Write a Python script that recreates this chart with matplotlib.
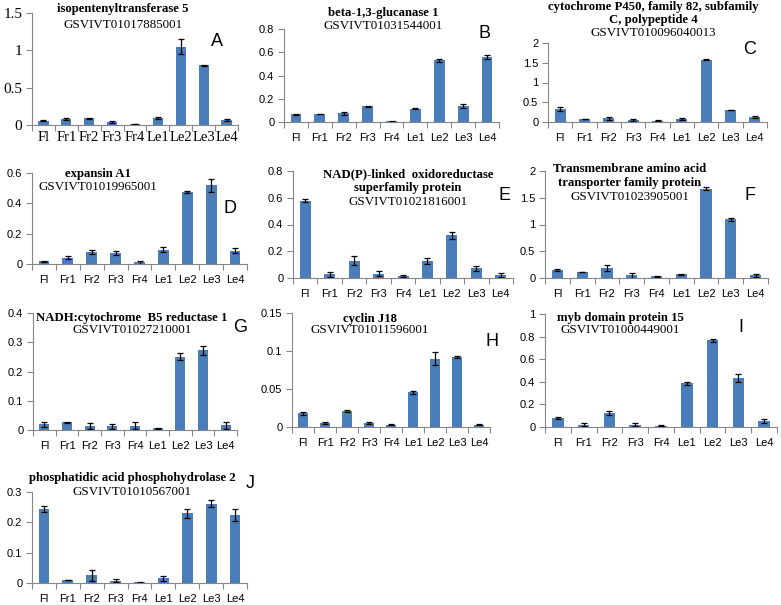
import numpy as np
import matplotlib
matplotlib.use("Agg")
import matplotlib.pyplot as plt
from matplotlib.ticker import FuncFormatter

W, H = 781, 605

samples = ["Fl", "Fr1", "Fr2", "Fr3", "Fr4", "Le1", "Le2", "Le3", "Le4"]

vals_a = [0.06, 0.08, 0.09, 0.045, 0.015, 0.09, 1.05, 0.80, 0.065]
err_a = [0.01, 0.015, 0.005, 0.015, 0.005, 0.015, 0.10, 0.01, 0.01]
vals_b = [0.065, 0.07, 0.075, 0.135, 0.005, 0.115, 0.53, 0.14, 0.56]
err_b = [0.005, 0.002, 0.015, 0.005, 0.002, 0.002, 0.012, 0.018, 0.018]
vals_c = [0.33, 0.07, 0.09, 0.05, 0.03, 0.07, 1.58, 0.31, 0.12]
err_c = [0.06, 0.005, 0.04, 0.03, 0.01, 0.03, 0.02, 0.005, 0.03]
vals_d = [0.018, 0.042, 0.08, 0.072, 0.013, 0.095, 0.475, 0.518, 0.088]
err_d = [0.002, 0.012, 0.015, 0.015, 0.01, 0.018, 0.005, 0.04, 0.015]
vals_e = [0.578, 0.028, 0.13, 0.033, 0.015, 0.128, 0.318, 0.072, 0.022]
err_e = [0.01, 0.02, 0.035, 0.02, 0.01, 0.02, 0.025, 0.02, 0.018]
vals_f = [0.15, 0.11, 0.19, 0.05, 0.03, 0.07, 1.67, 1.10, 0.05]
err_f = [0.01, 0.005, 0.05, 0.05, 0.015, 0.01, 0.03, 0.03, 0.03]
vals_g = [0.019, 0.026, 0.013, 0.012, 0.015, 0.006, 0.25, 0.272, 0.017]
err_g = [0.008, 0.003, 0.01, 0.008, 0.012, 0.002, 0.012, 0.015, 0.012]
vals_h = [0.018, 0.0055, 0.021, 0.005, 0.003, 0.046, 0.09, 0.092, 0.003]
err_h = [0.002, 0.001, 0.001, 0.001, 0.001, 0.002, 0.009, 0.001, 0.001]
vals_i = [0.08, 0.022, 0.125, 0.022, 0.012, 0.385, 0.768, 0.43, 0.055]
err_i = [0.005, 0.01, 0.015, 0.01, 0.005, 0.015, 0.015, 0.035, 0.02]
vals_j = [0.243, 0.01, 0.025, 0.008, 0.002, 0.015, 0.23, 0.262, 0.225]
err_j = [0.01, 0.001, 0.017, 0.006, 0.001, 0.007, 0.015, 0.01, 0.02]

BAR = "#4a7ebb"
AXC = "#868686"
SERIF = "Liberation Serif"
SANS = "Liberation Sans"

fig = plt.figure(figsize=(W / 100, H / 100), dpi=100)


def ftext(x, y, s, **kw):
    fig.text(x / W, 1 - y / H, s, ha="center", va="center", **kw)


def panel(box, vals, errs, ymax, ystep, titles, letter, serif_ticks=False):
    left, top, right, bottom = box
    ax = fig.add_axes([left / W, 1 - bottom / H, (right - left) / W, (bottom - top) / H])
    x = np.arange(len(samples))
    ax.bar(x, vals, width=0.45, color=BAR, yerr=errs, capsize=2.2,
           error_kw=dict(ecolor="black", elinewidth=0.9, capthick=0.9))
    ax.set_xlim(-0.5, len(samples) - 0.5)
    ax.set_ylim(0, ymax)
    ax.set_yticks(np.arange(0, ymax + ystep / 2, ystep))
    ax.yaxis.set_major_formatter(FuncFormatter(lambda v, p: "%g" % round(v, 3)))
    ax.set_xticks(x)
    ax.set_xticks(np.arange(-0.5, len(samples), 1), minor=True)
    for s in ["top", "right"]:
        ax.spines[s].set_visible(False)
    for s in ["left", "bottom"]:
        ax.spines[s].set_color(AXC)
        ax.spines[s].set_linewidth(0.8)
    ax.tick_params(axis="x", which="major", length=0, pad=8)
    ax.tick_params(axis="x", which="minor", length=4, color=AXC, width=0.8)
    ax.tick_params(axis="y", length=4, color=AXC, width=0.8, pad=3)
    if serif_ticks:
        ax.set_xticklabels(samples, family=SERIF, fontsize=10.5)
        for t in ax.get_yticklabels():
            t.set_family(SERIF)
            t.set_fontsize(11)
        ax.tick_params(axis="x", which="major", pad=4)
    else:
        ax.set_xticklabels(samples, family=SANS, fontsize=8)
        for t in ax.get_yticklabels():
            t.set_family(SANS)
            t.set_fontsize(8)
    for (tx, ty, s, bold) in titles:
        ftext(tx, ty, s, family=SERIF, fontsize=9.2 if bold else 9.4,
              fontweight="bold" if bold else "normal")
    lx, ly, lt = letter
    ftext(lx, ly, lt, family=SANS, fontsize=13)
    return ax


panel((32, 13, 238, 125), vals_a, err_a, 1.5, 0.5,
      [(123, 9, "isopentenyltransferase 5", True), (123, 25, "GSVIVT01017885001", False)],
      (217, 42, "A"), serif_ticks=True)
panel((284, 29, 499, 122), vals_b, err_b, 0.8, 0.2,
      [(383, 13, "beta-1,3-glucanase 1", True), (383, 26, "GSVIVT01031544001", False)],
      (485, 33, "B"))
panel((548, 43, 767, 122), vals_c, err_c, 2, 0.5,
      [(653, 7, "cytochrome P450, family 82, subfamily", True),
       (653, 20, "C, polypeptide 4", True), (653, 33, "GSVIVT010096040013", False)],
      (750, 50, "C"))
panel((32, 173, 247, 264), vals_d, err_d, 0.6, 0.2,
      [(98, 174, "expansin A1", True), (98, 187, "GSVIVT01019965001", False)],
      (230, 208, "D"))
panel((293, 171, 513, 278), vals_e, err_e, 0.8, 0.2,
      [(408, 174, "NAD(P)-linked  oxidoreductase", True),
       (408, 188, "superfamily protein", True), (408, 202, "GSVIVT01021816001", False)],
      (505, 195, "E"))
panel((545, 171, 768, 278), vals_f, err_f, 2, 0.5,
      [(630, 169, "Transmembrane amino acid", True),
       (630, 183, "transporter family protein", True), (630, 197, "GSVIVT01023905001", False)],
      (750, 195, "F"))
panel((33, 313, 237, 430), vals_g, err_g, 0.4, 0.1,
      [(132, 318, "NADH:cytochrome  B5 reductase 1", True), (132, 330, "GSVIVT01027210001", False)],
      (240, 328, "G"))
panel((292, 313, 490, 427), vals_h, err_h, 0.15, 0.05,
      [(370, 319, "cyclin J18", True), (370, 330, "GSVIVT01011596001", False)],
      (492, 342, "H"))
panel((545, 314, 777, 427), vals_i, err_i, 1.0, 0.2,
      [(620, 318, "myb domain protein 15", True), (620, 330, "GSVIVT01000449001", False)],
      (741, 327, "I"))
panel((32, 492, 247, 583), vals_j, err_j, 0.3, 0.1,
      [(132, 478, "phosphatidic acid phosphohydrolase 2", True), (132, 492, "GSVIVT01010567001", False)],
      (250, 483, "J"))

fig.savefig("out.png", dpi=100, facecolor="white")
